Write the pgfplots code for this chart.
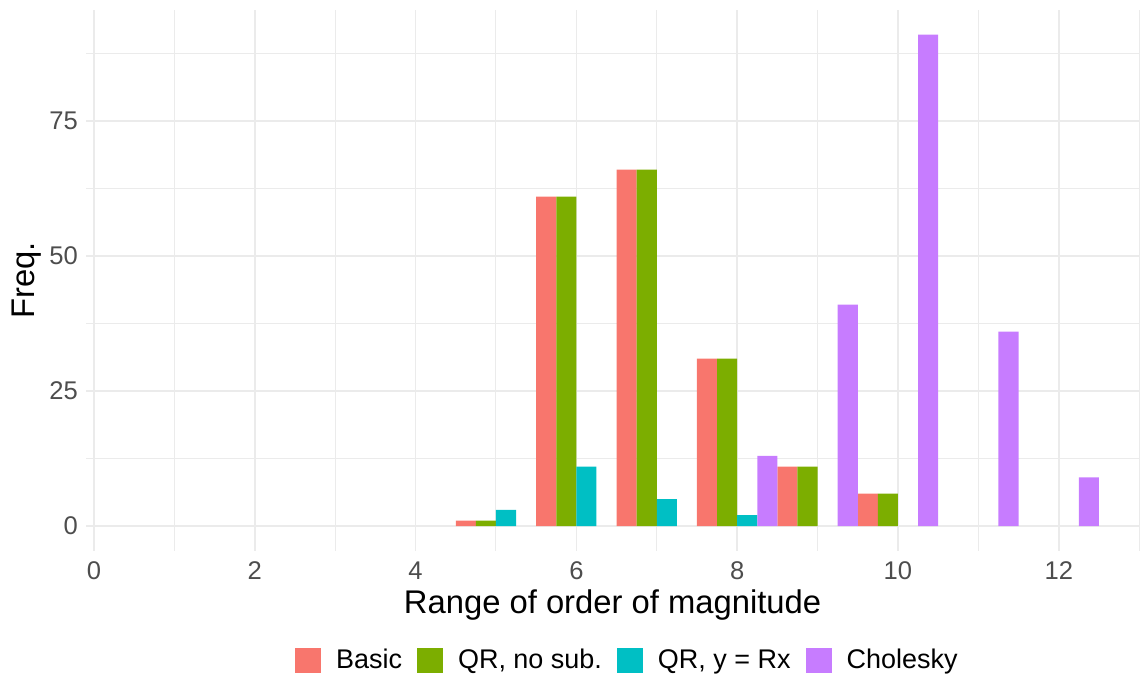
\documentclass[border=0pt]{standalone}
\usepackage{fontspec}
\setmainfont{Liberation Sans}
\usepackage{pgfplots}
\pgfplotsset{compat=1.18}
\definecolor{cBasic}{HTML}{F8766D}
\definecolor{cQR}{HTML}{7CAE00}
\definecolor{cQRy}{HTML}{00BFC4}
\definecolor{cChol}{HTML}{C77CFF}
\definecolor{gridc}{HTML}{EBEBEB}
\definecolor{tickc}{HTML}{4D4D4D}
\pgfplotsset{sqlegend/.style={legend image code/.code={\fill[##1,draw=none] (0pt,-6.5pt) rectangle (13pt,6.5pt);}}}
\begin{document}
\begin{tikzpicture}
\begin{axis}[
  width=527pt, height=270.5pt, scale only axis,
  xmin=-0.1, xmax=13, ymin=-4.55, ymax=95.55,
  ybar, bar width=0.25,
  xtick={0,2,...,12}, ytick={0,25,50,75},
  minor xtick={1,3,...,13}, minor ytick={12.5,37.5,62.5,87.5},
  grid=both,
  major grid style={color=gridc, line width=0.85pt},
  minor grid style={color=gridc, line width=0.5pt},
  axis line style={draw=none}, tick style={draw=none},
  /pgf/number format/assume math mode=true,
  ticklabel style={font=\fontsize{12.8}{14}\selectfont, text=tickc},
  xticklabel style={inner sep=0pt, yshift=-1.3pt},
  yticklabel style={xshift=-0.5pt},
  xlabel={Range of order of magnitude},
  ylabel={Freq.},
  label style={font=\fontsize{16.4}{18}\selectfont},
  xlabel style={at={(axis description cs:0.5,-0.0721)}, anchor=north, inner sep=0pt},
  ylabel style={at={(axis description cs:-0.0702,0.5)}, anchor=north, inner sep=0pt},
  legend columns=-1,
  legend style={draw=none, fill=none, font=\fontsize{13.5}{15}\selectfont,
    at={(axis description cs:0.515,-0.2033)}, anchor=center,
    /tikz/every odd column/.append style={column sep=5.5pt},
    /tikz/every even column/.append style={column sep=5.5pt}},
]
\addplot[fill=cBasic, draw=none, bar shift=-0.375, sqlegend] coordinates {(5,1) (6,61) (7,66) (8,31) (9,11) (10,6)};
\addplot[fill=cQR, draw=none, bar shift=-0.125, sqlegend] coordinates {(5,1) (6,61) (7,66) (8,31) (9,11) (10,6)};
\addplot[fill=cQRy, draw=none, bar shift=0.125, sqlegend] coordinates {(5,3) (6,11) (7,5) (8,2)};
\addplot[fill=cChol, draw=none, bar shift=0.375, sqlegend] coordinates {(8,13) (9,41) (10,91) (11,36) (12,9)};
\legend{Basic, {QR, no sub.}, {QR, y = Rx}, Cholesky}
\end{axis}
\path[use as bounding box] (-43pt,-63.5pt) rectangle (527pt,275.5pt);
\end{tikzpicture}
\end{document}
